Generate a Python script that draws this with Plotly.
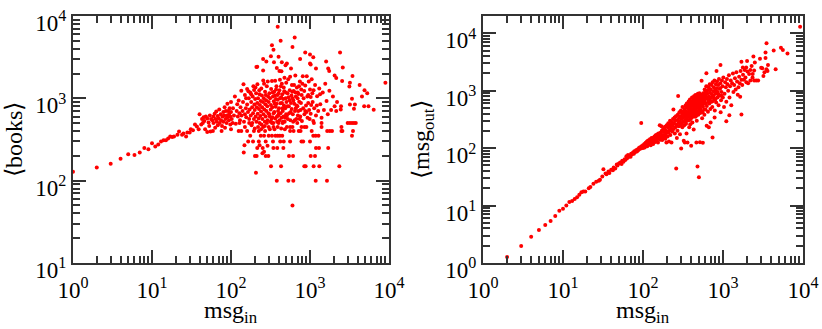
import plotly.graph_objects as go

# (msg_in, <books>)
books_line = [(1,128),(2,145),(3,160),(4,185),(5,210),(6,205),(7,220),(8,250),(9,240),(10,285),(11,260),
    (12,275),(13,300),(14,310),(15,310),(16,325),(17,345),(18,340),(19,345),(21,360),(22,395),(24,360),
    (25,375),(27,345),(28,385),(30,385),(31,420),(33,410),(35,480),(37,455),(39,420)]
books_mid = [(40,640),(42,480),(43,560),(44,500),(45,590),(46,530),(47,420),(48,600),(50,390),(50,570),
    (52,510),(53,460),(54,620),(55,395),(56,560),(58,540),(59,400),(60,500),(60,600),(62,650),(63,440),
    (64,560),(65,690),(66,520),(68,610),(68,470),(70,570),(71,730),(72,500),(74,640),(75,540),(77,460),
    (78,600),(80,680),(80,520),(82,620),(83,780),(85,560),(86,700),(88,500),(89,620),(90,590),(90,860),
    (92,700),(94,540),(95,650),(96,760),(98,480),(98,600),(100,900),(100,680),(100,420),(76,400),(84,440)]
books_low = [(600,50),(380,100),(532,100),(615,100),(1180,100),(1640,100),(207,125),
    (321,150),(430,150),(847,150),(881,150),(1112,150),(1312,150),(2350,150),
    (201,200),(211,200),(275,200),(297,200),(542,200),(610,200),(1020,200),(1157,200),(145,220),(250,215),(262,225),
    (215,250),(252,250),(344,250),(385,250),(460,250),(1190,250),(1300,250),(1700,250),(148,270),(230,270),(290,265),
    (165,300),(190,300),(225,300),(275,300),(340,300),(420,300),(465,300),(560,300),(780,300),(820,300),(1000,300),
    (175,350),(238,350),(262,350),(300,350),(330,350),(365,350),(390,350),(415,350),(445,350),(1100,350),(1180,350),(1280,350),(3400,350),
    (125,400),(135,400),(160,400),(195,400),(225,400),(270,400),(560,400),(620,400),(720,400),(760,400),(1050,400),(1650,400),(1780,400),(1900,400),(2500,400),(2570,400),(3500,400),
    (150,450),(220,450),(255,450),(300,450),(345,450),(510,450),(560,450),(600,450),(780,450),(850,450),(900,450),(1400,450),(2500,450),
    (105,500),(128,500),(170,500),(230,500),(285,500),(330,500),(400,500),(450,500),(690,500),(1120,500),(1400,500),(3000,500),(3200,500),(3400,500),(3600,500),(3800,500)]
books_core = [(102,560),(106,760),(109,620),(112,1050),(115,490),(118,700),(120,850),(122,600),(125,940),(128,660),
    (130,540),(132,780),(135,1240),(136,620),(140,700),(142,900),(144,1480),(146,520),(150,640),(150,1100),
    (154,760),(156,590),(160,840),(160,1300),(164,680),(168,1000),(170,560),(172,730),(175,1180),(178,620),
    (180,900),(182,470),(185,780),(188,1050),(190,660),(192,1400),(195,560),(198,840),(200,720),(202,980),
    (205,600),(208,1150),(210,520),(212,780),(215,880),(218,650),(220,1000),(224,570),(226,740),(228,1250),
    (232,830),(235,610),(238,930),(240,690),(243,480),(246,1080),(248,780),(250,560),(254,900),(256,1650),
    (258,640),(260,1000),(264,730),(268,520),(270,1200),(272,850),(275,600),(278,950),(280,700),(284,1400),
    (288,800),(290,540),(295,1050),(298,660),(300,900),(306,1150),(310,600),(316,520),
    (320,830),(322,1300),(330,1620),(336,590),(340,1050),(346,660),(352,1200),
    (358,860),(362,1640),(370,980),(376,1400),(382,600),(388,1100),(394,700),(402,640),(410,1250),(416,1680),(422,870),
    (432,1030),(440,1500),(448,760),(456,520),(465,1350),(475,1780),
    (484,580),(492,1000),(500,1550),(510,620),(520,1150),(530,1700),(540,800),
    (550,950),(560,1830),(570,680),(582,1080),(590,1450),(600,1000),
    (612,520),(622,1230),(632,860),(645,700),(652,1900),(662,1050),(672,560),(682,1350),(692,800),(702,620),
    (715,1130),(730,910),(745,1600),(760,720),(775,1280),(790,530),(810,1850),(830,1000),(850,640),(870,1430),
    (890,820),(910,1850),(930,580),(950,1100),(975,720),(1000,1280),(1020,650),(1050,1700),(1080,900),(1100,530),
    (1130,760),(1160,1450),(1190,620),(1230,1060),(1270,700),(1310,1320),(1350,850),(1400,580),(1450,1180),
    (1500,720),(1560,1500),(1620,930),(1680,640),(1760,1240),(1850,720),(1950,1050),(2050,800),(2200,900),(2450,730),
    (660,760),(700,1180),(740,560),(800,1500),(870,700),(950,880),(1020,1040),(1110,1250),(1220,820),(1340,1120)]
books_fill = [(305,640),(312,1000),(318,730),(326,560),(334,780),(338,1180),(344,500),(348,920),(354,680),(360,1080),
    (364,570),(368,790),(372,1280),(378,860),(384,520),(390,960),(396,620),(400,1150),(405,760),(412,540),(418,1000),
    (424,660),(428,1400),(436,580),(442,880),(446,1120),(452,700),(458,980),(462,600),(468,820),(472,1220),(478,520),
    (486,760),(494,1180),(498,640),(504,900),(514,800),(524,560),(534,1030),(544,660),(554,1250),(564,540),(574,880),
    (586,740),(596,1200),(606,640),(616,940),(628,1450),(640,540),(656,1180),(676,820),(696,1000),(710,700),(726,1400),
    (752,600),(768,880),(784,1100),(820,760),(845,1230),(905,680),(925,1050),(965,1600),(990,560),(1035,830),(1070,1150),
    (155,1000),(166,1220),(180,1120),(196,1260),(204,1350),(216,1480),(230,1120),(242,1320),(262,1500),(276,1100),
    (292,1600),(200,430),(186,500),(240,420),(268,460),(310,420),(355,420),(390,450),(432,430),(480,420)]
books_top = [(390,7400),(640,5500),(600,4200),(425,5000),(330,4400),(345,3900),(320,3250),(400,3200),(255,3000),
    (280,2800),(350,2750),(210,2400),(215,2420),(255,2180),(440,2750),(380,2330),(410,2150),(435,2130),(490,2530),
    (510,2640),(575,2300),(750,3000),(870,3600),(1000,3400),(1100,3150),(1000,2650),(1020,2580),(1190,2300),
    (1600,2800),(1700,2300),(1750,2150),(2400,3600),(2600,2370),(2050,1900),(2150,1770),(2550,1620),(3450,1870),
    (3200,1550),(3150,1390),(4250,1450),(4900,1250),(5300,1150),(4550,1050),(9000,1550),(3400,990),(3200,840),
    (3700,840),(3600,745),(4850,800),(5500,800),(6400,725),(2470,800),(2150,700)]

# (msg_in, <msg_out>)
out_line = [(2,1.27),(3,1.97),(4,2.87),(5,3.75),(6,4.6),(7,5.4),(8,6.6),(9,8.1),(10,8.8),(11,10),(12,11.5),
    (13,12),(14,13),(15,14),(16,15.5),(17,17),(18,17.5),(19,17.5),(21,20),(22,21),(24,24),(26,26),(28,27),
    (29,28),(31,32),(32,43),(34,36),(35,35),(37,39),(38,37),(40,42),(42,41),(43,46),(45,44),(47,52),(48,50),
    (50,54),(52,56),(54,53),(55,60),(57,58),(59,64),(60,62),(62,72),(63,66),(65,76),(66,70),(68,74),(70,71),
    (71,80),(73,78),(75,84),(77,80),(78,88),(80,86),(82,92),(84,87),(85,95),(87,92),(89,100),(90,97),(92,104),
    (94,98),(95,275),(96,108),(98,102),(100,112),(100,100)]
out_core = [(102,108),(104,118),(105,102),(107,112),(108,124),(110,115),(112,130),(113,108),(115,120),(116,136),
    (118,125),(120,118),(122,142),(123,130),(125,112),(127,136),(128,150),(130,125),(132,140),(134,118),(135,152),
    (137,132),(139,160),(140,145),(142,128),(144,168),(146,150),(148,135),(150,172),(152,158),(154,125),(156,180),
    (158,145),(160,165),(162,250),(164,140),(165,185),(168,155),(170,240),(172,200),(174,138),(176,170),(178,210),
    (180,150),(182,190),(184,225),(186,165),(188,235),(190,145),(192,205),(194,180),(196,125),(198,250),(200,195),
    (203,160),(205,228),(207,270),(209,185),(211,130),(213,240),(215,205),(218,300),(220,170),(222,260),(225,220),
    (227,125),(230,285),(232,195),(235,245),(237,320),(240,470),(242,215),(245,270),(248,340),(250,180),(252,300),
    (255,230),(258,360),(260,44),(262,255),(265,150),(268,310),(270,200),(272,380),(275,810),(277,275),(280,240),
    (282,335),(285,420),(288,290),(290,175),(293,360),(295,250),(298,450),(300,98),(302,320),(305,270),(308,395),
    (310,230),(312,520),(315,340),(318,290),(320,430),(323,135),(325,370),(328,250),(330,480),(333,125),(335,310),
    (338,400),(340,550),(345,265),(350,180),(353,600),(358,380),(360,125),(362,500),
    (368,420),(372,650),(378,230),(383,310),(386,700),(390,260),
    (396,520),(400,110),(404,620),(410,760),(415,280),(420,430),(425,680),(430,210),(434,800),(440,380),(446,530),
    (452,840),(458,360),(463,650),(465,125),(470,300),(475,760),(480,48),(485,880),(490,380),(500,31),(505,800),
    (510,520),(515,127),(520,410),(530,750),(540,1490),(548,330),(560,124),(570,620),
    (620,2010),(625,245),(665,230),(700,280),(740,153),(785,340),(830,2200),(930,2800),(1100,295),(1200,375),(1700,385),(1640,780),
    (1770,2530),(1700,3200),(1950,2530),(2000,3300),(2200,2300),(2350,1950),(2400,3950),(2450,1500),(2450,2250),(2500,3100),
    (2600,1500),(2900,3600),(3000,2500),(3100,2450),(3200,1800),(3300,2100),(3400,3700),(3400,4600),(3500,2350),(3500,6700),
    (3650,2800),(4300,5000),(4550,2370),(5300,5600),(5600,5100),(6400,4450),(9200,13000),(2750,1500),(3600,2200)]
out_fill = [(332,290),(336,360),(342,440),(347,330),(352,510),(356,300),(360,420),(364,360),(366,560),(370,310),(374,470),
    (376,390),(380,520),(384,350),(388,600),(392,430),(394,320),(398,480),(402,380),(406,550),(408,340),(412,640),(416,470),
    (418,400),(422,540),(426,360),(428,590),(432,450),(436,700),(438,500),(442,420),(444,620),(448,350),(450,550),(454,470),
    (456,720),(460,400),(462,580),(466,500),(468,660),(472,440),(474,820),(478,560),(482,390),(484,640),(488,510),(492,720),
    (494,440),(498,590),(502,660),(506,460),(508,900),(512,560),(516,700),(522,610),(526,480),(528,850),(532,640),(536,550),
    (542,720),(546,430),(552,620),(556,780),(562,530),(566,690),(572,840),(578,600),(582,470),(588,700),(595,620),(600,950),
    (610,600),(640,760),(660,640),(680,700),(720,640),(760,820),(800,700),(840,950),(880,860),(920,1100),(960,820)]
out_upper = [(555,420),(565,900),(575,760),(585,380),(590,1050),(600,830),(605,470),(612,720),(618,1200),(628,540),
    (635,880),(642,1020),(648,430),(655,690),(662,1150),(668,790),(675,600),(682,1300),(688,920),(695,480),(702,1050),
    (710,750),(718,1250),(726,870),(735,520),(742,1400),(750,660),(758,980),(766,1150),(775,740),(782,1500),(790,450),
    (798,1020),(806,880),(814,1300),(822,620),(832,1100),(842,1450),(850,760),(860,950),(870,1250),(880,560),(890,1600),
    (900,820),(912,1080),(925,1350),(935,420),(945,680),(958,950),(970,1500),(985,1200),(995,760),(1010,1700),(1030,520),
    (1045,880),(1065,1400),(1085,1150),(1100,640),(1120,1600),(1140,1300),(1160,1000),(1185,1850),(1205,760),(1225,1200),
    (1250,1500),(1270,560),(1300,1350),(1330,2000),(1350,950),(1380,1250),(1410,1650),(1440,1050),(1470,2100),(1500,1450),
    (1530,850),(1560,1150),(1590,1750),(1620,1350),(1660,2200),(1700,1550),(1740,1250),(1780,1900),(1830,1550),(1870,2300),
    (1910,1700),(1960,1400),(2020,2150),(2060,1350),(2120,1950),(2200,1500),(2280,2700),(2340,1700)]

decades_x = [1, 10, 100, 1000, 10000]
decades_books = [10, 100, 1000, 10000]
decades_out = [1, 10, 100, 1000, 10000]
labels_x = ["10<sup>0</sup>", "10<sup>1</sup>", "10<sup>2</sup>", "10<sup>3</sup>", "10<sup>4</sup>"]
labels_books = ["10<sup>1</sup>", "10<sup>2</sup>", "10<sup>3</sup>", "10<sup>4</sup>"]
labels_out = labels_x

books_pts = books_line + books_mid + books_low + books_core + books_fill + books_top
out_pts = out_line + out_core + out_fill + out_upper

FONT = "Liberation Serif"
INK = "#333333"
W, H = 822, 329


def minors(lo, hi):
    vals = []
    for e in range(lo, hi):
        for m in range(2, 10):
            vals.append(m * 10 ** e)
    return vals


def axis_style(tickvals, ticktext, rng, lo, hi):
    return dict(type="log", range=rng, tickmode="array", tickvals=tickvals, ticktext=ticktext,
                ticks="inside", ticklen=13, tickwidth=2, tickcolor=INK,
                showline=True, linecolor=INK, linewidth=2, mirror="allticks",
                showgrid=False, zeroline=False, automargin=False, ticklabeloverflow="allow",
                tickfont=dict(family=FONT, size=23, color="black"),
                minor=dict(tickmode="array", tickvals=minors(lo, hi), ticks="inside", ticklen=7,
                           tickwidth=2, tickcolor=INK, showgrid=False))


def label(text, x, y, angle=0):
    return dict(text=text, x=x / W, y=1 - y / H, xref="paper", yref="paper", showarrow=False, textangle=angle,
                xanchor="center", yanchor="middle", font=dict(family=FONT, size=24, color="black"))


fig = go.Figure()
fig.add_trace(go.Scatter(x=[p[0] for p in books_pts], y=[p[1] for p in books_pts], mode="markers",
                         marker=dict(color="#ff0000", size=4), xaxis="x", yaxis="y", showlegend=False))
fig.add_trace(go.Scatter(x=[p[0] for p in out_pts], y=[p[1] for p in out_pts], mode="markers",
                         marker=dict(color="#ff0000", size=4), xaxis="x2", yaxis="y2", showlegend=False))

fig.update_layout(
    width=W, height=H, margin=dict(l=0, r=0, t=0, b=0),
    paper_bgcolor="white", plot_bgcolor="white",
    xaxis=dict(axis_style(decades_x, labels_x, [0, 4], 0, 4), domain=[73 / W, 389 / W], anchor="y", ticklabelstandoff=5),
    yaxis=dict(axis_style(decades_books, labels_books, [1, 4], 1, 4), domain=[1 - 263 / H, 1 - 16 / H], anchor="x", ticklabelshift=7),
    xaxis2=dict(axis_style(decades_x, labels_x, [0, 4], 0, 4), domain=[483 / W, 803 / W], anchor="y2", ticklabelstandoff=5),
    yaxis2=dict(axis_style(decades_out, labels_out, [0, 4.3], 0, 5), domain=[1 - 263 / H, 1 - 16 / H], anchor="x2", ticklabelshift=7),
    annotations=[
        label("msg<sub>in</sub>", 231, 312),
        label("msg<sub>in</sub>", 643, 312),
        label("\u27e8books\u27e9", 14, 140, -90),
        label("\u27e8msg<sub>out</sub>\u27e9", 423, 140, -90),
    ],
)

# the page's 8px body margin would push the figure off the window
fig.write_html("out.html", config=dict(displayModeBar=False),
               post_script="document.body.style.margin='0';document.documentElement.style.overflow='hidden';")
